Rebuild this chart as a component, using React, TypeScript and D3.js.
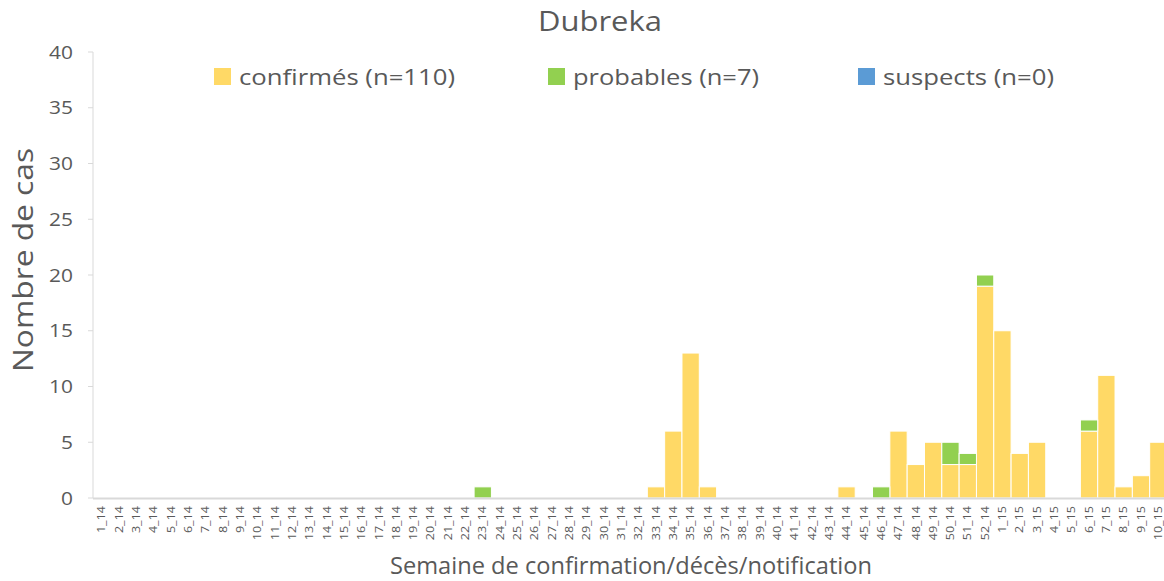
import React, { useEffect } from "react";
import * as d3 from "d3";

const weeks14 = d3.range(1, 53).map((w) => `${w}_14`);
const weeks15 = d3.range(1, 11).map((w) => `${w}_15`);
const categories: string[] = [...weeks14, ...weeks15];

const confirmedEntries: [string, number][] = [
  ["33_14", 1], ["34_14", 6], ["35_14", 13], ["36_14", 1], ["44_14", 1],
  ["47_14", 6], ["48_14", 3], ["49_14", 5], ["50_14", 3], ["51_14", 3], ["52_14", 19],
  ["1_15", 15], ["2_15", 4], ["3_15", 5], ["6_15", 6], ["7_15", 11], ["8_15", 1],
  ["9_15", 2], ["10_15", 5],
];
const probableEntries: [string, number][] = [
  ["23_14", 1], ["46_14", 1], ["50_14", 2], ["51_14", 1], ["52_14", 1], ["6_15", 1],
];
const suspectEntries: [string, number][] = [];

const yTicks = [0, 5, 10, 15, 20, 25, 30, 35, 40];
const seriesNames = ["confirmés (n=110)", "probables (n=7)", "suspects (n=0)"];
const colors = ["#FFD966", "#92D050", "#5B9BD5"];

const W = 1164, H = 581;
const FONT = "'Open Sans', sans-serif";

export default function App() {
  useEffect(() => {
    document.body.style.margin = "0";
    document.body.style.overflow = "hidden";
    document.documentElement.style.overflow = "hidden";
  }, []);
  const cMap = new Map(confirmedEntries);
  const pMap = new Map(probableEntries);
  const sMap = new Map(suspectEntries);
  const rows = categories.map((c) => ({
    cat: c,
    confirmed: cMap.get(c) ?? 0,
    probable: pMap.get(c) ?? 0,
    suspect: sMap.get(c) ?? 0,
  }));
  const keys = ["confirmed", "probable", "suspect"];
  const stack = d3.stack<any>().keys(keys)(rows);

  const x = d3.scaleBand().domain(categories).range([93, 1167]).padding(0);
  const y = d3.scaleLinear().domain([0, 40]).range([498, 52]);

  const legendX = [214, 548, 858];
  const legendLen = [216, 186, 171];

  return (
    <div style={{ position: "fixed", left: 0, top: 0, width: W, height: H, overflow: "hidden" }}>
      <svg width={W} height={H} style={{ display: "block", background: "#fff" }}>
        <text x={538} y={31} textLength={124} lengthAdjust="spacingAndGlyphs" fontFamily={FONT} fontSize={27} fill="#595959">
          Dubreka
        </text>
        {/* y axis */}
        <line x1={93} x2={93} y1={y(40)} y2={y(0)} stroke="#d9d9d9" strokeWidth={1} />
        {yTicks.map((t) => (
          <g key={t}>
            <line x1={88} x2={93} y1={y(t)} y2={y(t)} stroke="#d9d9d9" />
            <text
              transform={`translate(73,${y(t)}) scale(1.1,1)`}
              dy="0.35em"
              textAnchor="end"
              fontFamily={FONT}
              fontSize={19}
              fill="#595959"
            >
              {t}
            </text>
          </g>
        ))}
        {/* bars */}
        {stack.map((s, i) => (
          <g key={s.key} fill={colors[i]}>
            {s.map((d, j) =>
              d[1] - d[0] > 0 ? (
                <rect
                  key={j}
                  x={x(categories[j])!}
                  width={x.bandwidth()}
                  y={y(d[1])}
                  height={y(d[0]) - y(d[1])}
                  stroke="#fff"
                  strokeWidth={1}
                />
              ) : null
            )}
          </g>
        ))}
        {/* x axis */}
        <line x1={93} x2={1164} y1={498.5} y2={498.5} stroke="#d9d9d9" strokeWidth={2} />
        {categories.map((c) => {
          const cx = x(c)! + x.bandwidth() / 2;
          return (
            <text
              key={c}
              transform={`translate(${cx},506) rotate(-90) scale(1.2,1)`}
              dy="0.35em"
              textAnchor="end"
              fontFamily={FONT}
              fontSize={10.5}
              fill="#595959"
            >
              {c}
            </text>
          );
        })}
        <text x={390} y={574} textLength={482} lengthAdjust="spacingAndGlyphs" fontFamily={FONT} fontSize={23} fill="#595959">
          Semaine de confirmation/décès/notification
        </text>
        <text
          transform={`translate(33,372) rotate(-90)`}
          textLength={224}
          lengthAdjust="spacingAndGlyphs"
          fontFamily={FONT}
          fontSize={27}
          fill="#595959"
        >
          Nombre de cas
        </text>
        {/* legend */}
        {seriesNames.map((n, i) => (
          <g key={n}>
            <rect x={legendX[i]} y={68} width={17} height={17} fill={colors[i]} />
            <text
              x={legendX[i] + 25}
              y={85}
              textLength={legendLen[i]}
              lengthAdjust="spacingAndGlyphs"
              fontFamily={FONT}
              fontSize={22}
              fill="#595959"
            >
              {n}
            </text>
          </g>
        ))}
      </svg>
    </div>
  );
}
